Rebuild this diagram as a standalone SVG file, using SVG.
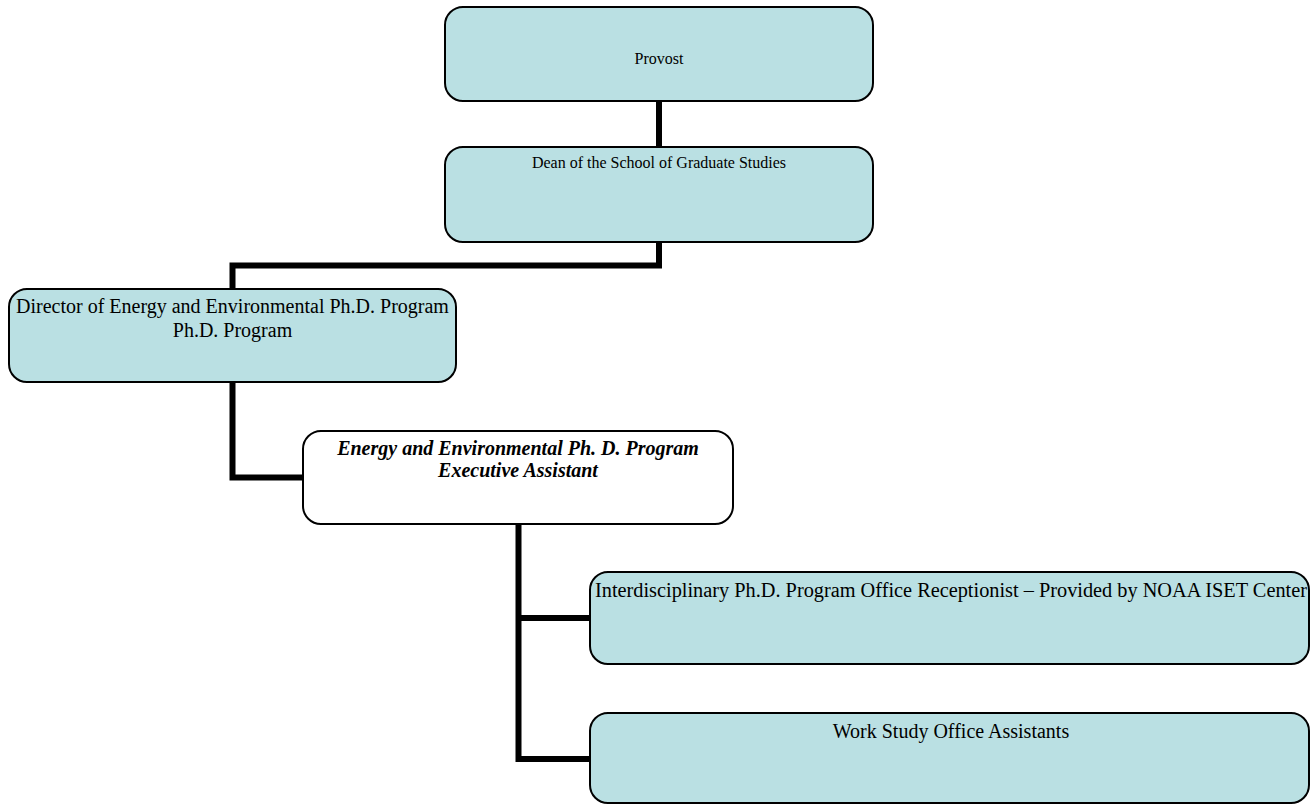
<svg xmlns="http://www.w3.org/2000/svg" width="1315" height="805" viewBox="0 0 1315 805">
<style>
.box{fill:#BAE0E3;stroke:#000;stroke-width:2}
.wbox{fill:#fff;stroke:#000;stroke-width:2}
.conn{fill:none;stroke:#000;stroke-width:6;stroke-linejoin:miter}
text{font-family:"Liberation Serif","Times New Roman",serif;fill:#000;text-anchor:middle}
.s{font-size:16px}
.m{font-size:20px}
.bi{font-size:20px;font-weight:bold;font-style:italic}
</style>
<rect width="1315" height="805" fill="#fff"/>
<g id="connectors">
<path class="conn" d="M659 101 V147"/>
<path class="conn" d="M659 242 V265.5 H232.5 V289"/>
<path class="conn" d="M232.5 382 V477.5 H303"/>
<path class="conn" d="M518.5 524 V759 H590"/>
<path class="conn" d="M518.5 618 H590"/>
</g>
<g id="provost">
<rect class="box" x="445" y="7" width="428" height="94" rx="18"/>
<text class="s" x="659" y="64">Provost</text>
</g>
<g id="dean">
<rect class="box" x="445" y="147" width="428" height="95" rx="18"/>
<text class="s" x="659" y="168">Dean of the School of Graduate Studies</text>
</g>
<g id="director">
<rect class="box" x="9" y="289" width="447" height="93" rx="18"/>
<text class="m" x="232.5" y="313">Director of Energy and Environmental Ph.D. Program</text>
<text class="m" x="232.5" y="337">Ph.D. Program</text>
</g>
<g id="exec">
<rect class="wbox" x="303" y="431" width="430" height="93" rx="18"/>
<text class="bi" x="518" y="455">Energy and Environmental Ph. D. Program</text>
<text class="bi" x="518" y="477">Executive Assistant</text>
</g>
<g id="receptionist">
<rect class="box" x="590" y="572" width="719" height="92" rx="18"/>
<text class="m" x="951" y="597" textLength="712" lengthAdjust="spacingAndGlyphs">Interdisciplinary Ph.D. Program Office Receptionist – Provided by NOAA ISET Center</text>
</g>
<g id="workstudy">
<rect class="box" x="590" y="713" width="719" height="90" rx="18"/>
<text class="m" x="951" y="738">Work Study Office Assistants</text>
</g>
</svg>
